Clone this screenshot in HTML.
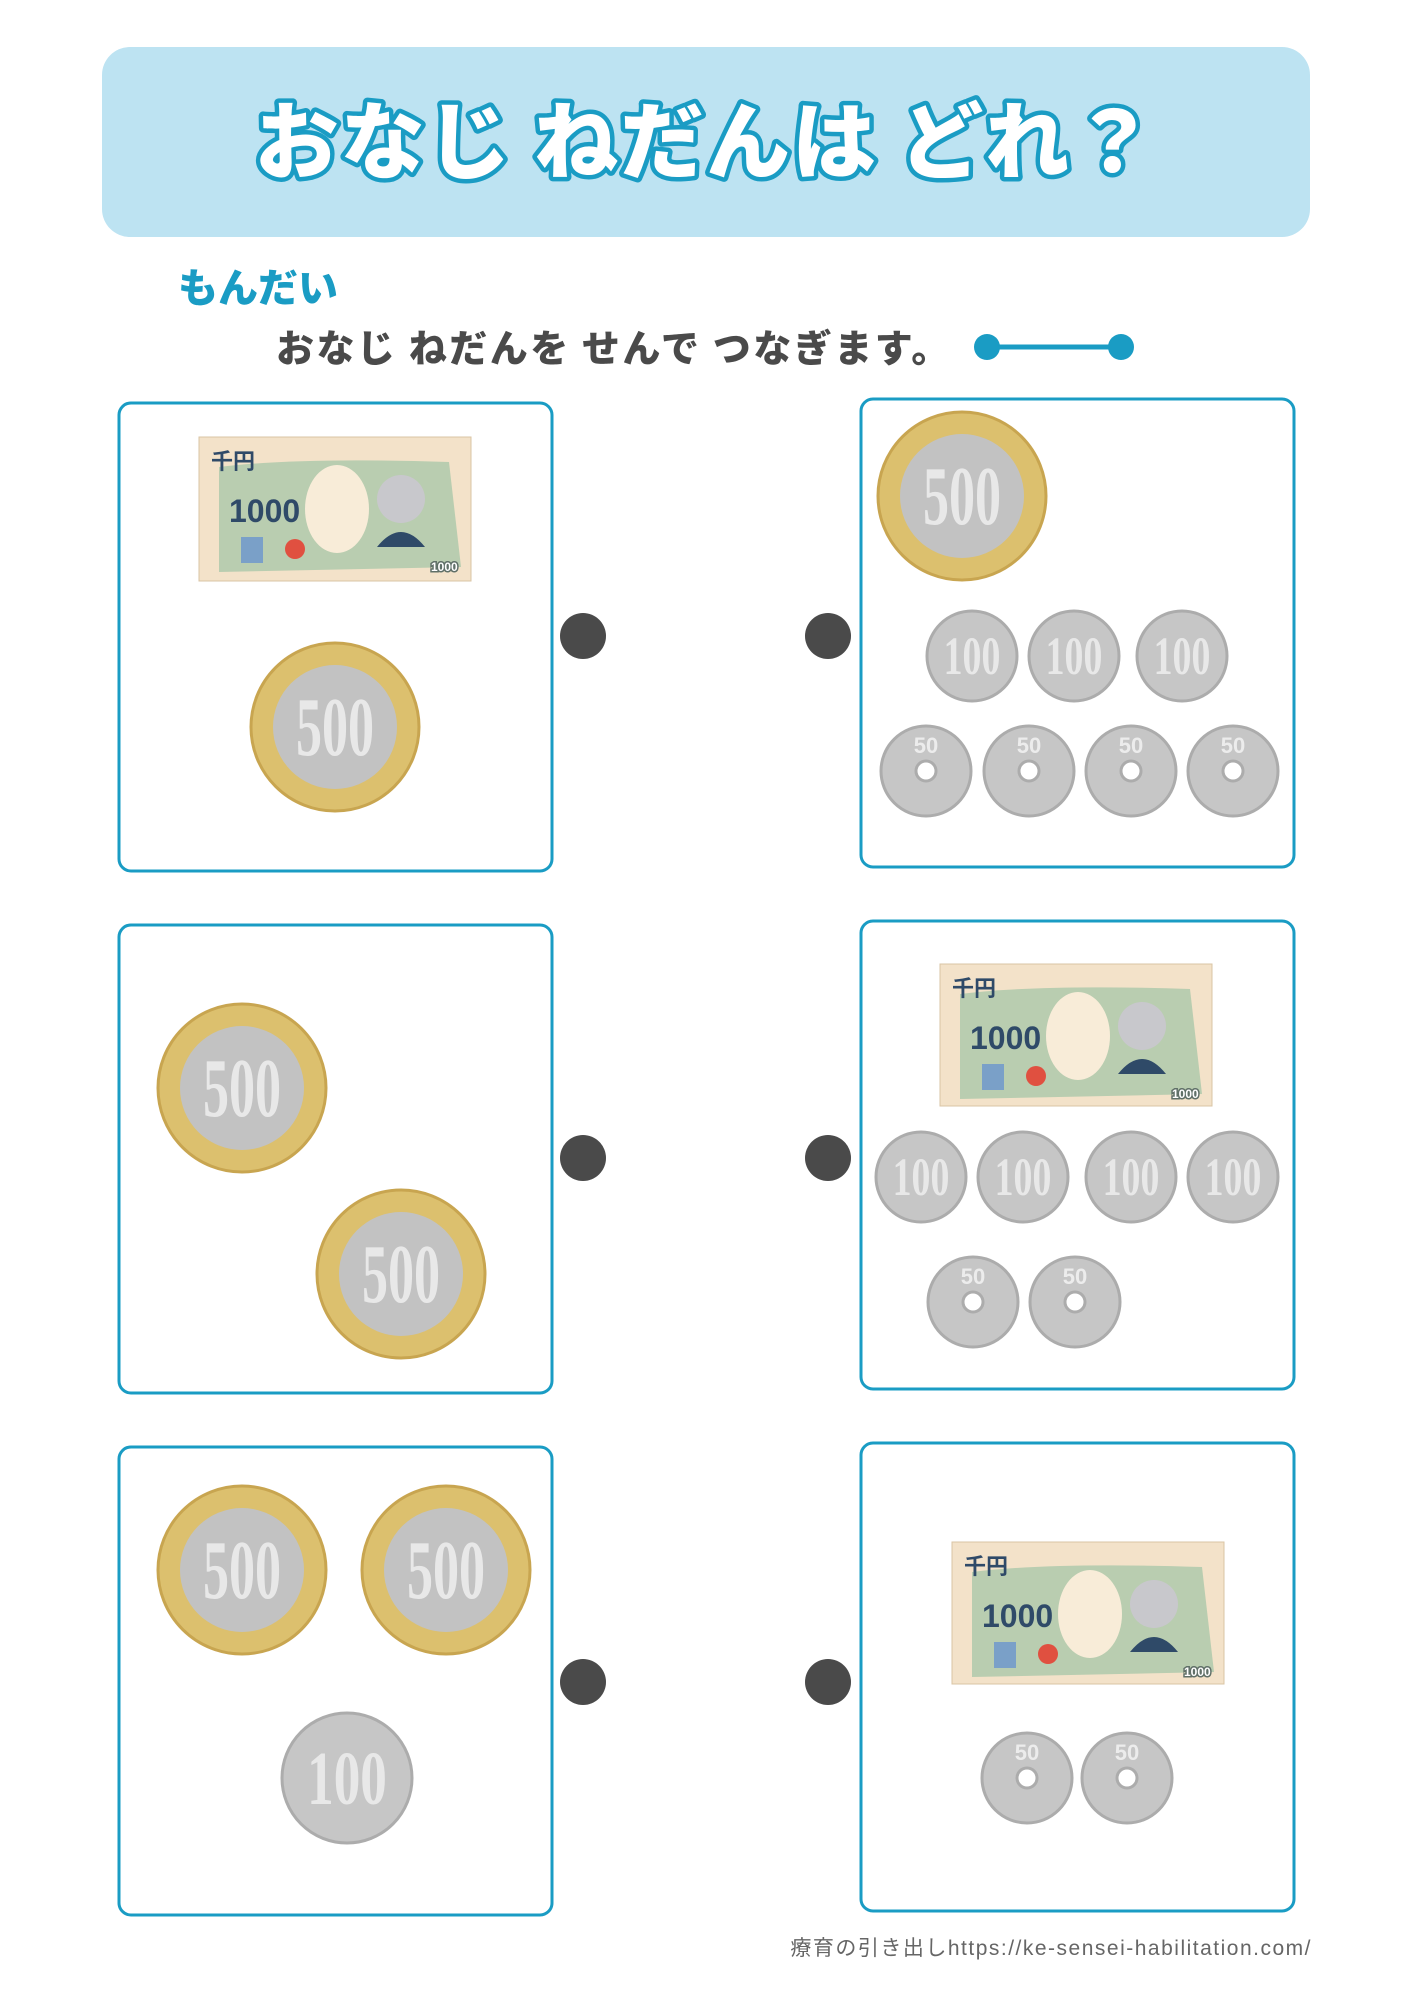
<!DOCTYPE html>
<html><head><meta charset="utf-8"><style>
html,body{margin:0;padding:0;background:#fff;}
svg{display:block;}
</style></head><body>
<svg width="1414" height="2000" viewBox="0 0 1414 2000" xmlns="http://www.w3.org/2000/svg" font-family="'Liberation Sans','Noto Sans CJK JP',sans-serif">
<rect x="102" y="47" width="1208" height="190" rx="28" fill="#bde3f2"/>
<text x="706" y="172" text-anchor="middle" font-size="84" font-weight="900" fill="#fff" stroke="#1a9cc4" stroke-width="9" paint-order="stroke" stroke-linejoin="round" font-family="'Noto Sans CJK JP',sans-serif" letter-spacing="2">おなじ ねだんは どれ？</text>
<text x="178" y="302" font-size="40" font-weight="900" fill="#1a9cc4" font-family="'Noto Sans CJK JP',sans-serif">もんだい</text>
<text x="276" y="362" font-size="38" font-weight="900" fill="#4a4a4a" letter-spacing="2.5" font-family="'Noto Sans CJK JP',sans-serif">おなじ ねだんを せんで つなぎます。</text>
<line x1="987" y1="347" x2="1121" y2="347" stroke="#1a9cc4" stroke-width="5"/>
<circle cx="987" cy="347" r="13" fill="#1a9cc4"/><circle cx="1121" cy="347" r="13" fill="#1a9cc4"/>

<g fill="none" stroke="#1a9cc4" stroke-width="3">
<rect x="119" y="403" width="433" height="468" rx="12"/>
<rect x="861" y="399" width="433" height="468" rx="12"/>
<rect x="119" y="925" width="433" height="468" rx="12"/>
<rect x="861" y="921" width="433" height="468" rx="12"/>
<rect x="119" y="1447" width="433" height="468" rx="12"/>
<rect x="861" y="1443" width="433" height="468" rx="12"/>
</g>
<g fill="#4a4a4a">
<circle cx="583" cy="636" r="23"/><circle cx="828" cy="636" r="23"/>
<circle cx="583" cy="1158" r="23"/><circle cx="828" cy="1158" r="23"/>
<circle cx="583" cy="1682" r="23"/><circle cx="828" cy="1682" r="23"/>
</g>

<!-- bills -->
<g transform="translate(199,437)">
<rect width="272" height="144" fill="#f3e2c9" stroke="#d9c4a4"/>
<path d="M20 30 Q100 20 250 25 L262 130 L20 135 Z" fill="#b9cdb0"/>
<ellipse cx="138" cy="72" rx="32" ry="44" fill="#f8ecd8"/>
<circle cx="202" cy="62" r="24" fill="#c8c8cc"/><path d="M178 110 Q202 80 226 110 Z" fill="#2f4a68"/>
<text x="12" y="32" font-size="22" font-weight="bold" fill="#2f4a68" font-family="'Noto Sans CJK JP',sans-serif">千円</text>
<text x="30" y="85" font-size="32" font-weight="bold" fill="#2f4a68">1000</text>
<circle cx="96" cy="112" r="10" fill="#e05040"/><rect x="42" y="100" width="22" height="26" fill="#7aa0c8"/>
<text x="232" y="134" font-size="12" font-weight="bold" fill="#fff" stroke="#607068" stroke-width="3" paint-order="stroke">1000</text>
</g>
<g transform="translate(940,964)">
<rect width="272" height="142" fill="#f3e2c9" stroke="#d9c4a4"/>
<path d="M20 30 Q100 20 250 25 L262 130 L20 135 Z" fill="#b9cdb0"/>
<ellipse cx="138" cy="72" rx="32" ry="44" fill="#f8ecd8"/>
<circle cx="202" cy="62" r="24" fill="#c8c8cc"/><path d="M178 110 Q202 80 226 110 Z" fill="#2f4a68"/>
<text x="12" y="32" font-size="22" font-weight="bold" fill="#2f4a68" font-family="'Noto Sans CJK JP',sans-serif">千円</text>
<text x="30" y="85" font-size="32" font-weight="bold" fill="#2f4a68">1000</text>
<circle cx="96" cy="112" r="10" fill="#e05040"/><rect x="42" y="100" width="22" height="26" fill="#7aa0c8"/>
<text x="232" y="134" font-size="12" font-weight="bold" fill="#fff" stroke="#607068" stroke-width="3" paint-order="stroke">1000</text>
</g>
<g transform="translate(952,1542)">
<rect width="272" height="142" fill="#f3e2c9" stroke="#d9c4a4"/>
<path d="M20 30 Q100 20 250 25 L262 130 L20 135 Z" fill="#b9cdb0"/>
<ellipse cx="138" cy="72" rx="32" ry="44" fill="#f8ecd8"/>
<circle cx="202" cy="62" r="24" fill="#c8c8cc"/><path d="M178 110 Q202 80 226 110 Z" fill="#2f4a68"/>
<text x="12" y="32" font-size="22" font-weight="bold" fill="#2f4a68" font-family="'Noto Sans CJK JP',sans-serif">千円</text>
<text x="30" y="85" font-size="32" font-weight="bold" fill="#2f4a68">1000</text>
<circle cx="96" cy="112" r="10" fill="#e05040"/><rect x="42" y="100" width="22" height="26" fill="#7aa0c8"/>
<text x="232" y="134" font-size="12" font-weight="bold" fill="#fff" stroke="#607068" stroke-width="3" paint-order="stroke">1000</text>
</g>

<!-- 500 coins -->
<g font-family="'Liberation Serif',serif" font-weight="bold">
<g transform="translate(335,727)"><circle r="84" fill="#dcc06e" stroke="#c8a550" stroke-width="3"/><circle r="62" fill="#c2c2c2"/><text y="28" text-anchor="middle" font-size="84" fill="#e8e8e8" transform="scale(0.62,1)">500</text></g>
<g transform="translate(962,496)"><circle r="84" fill="#dcc06e" stroke="#c8a550" stroke-width="3"/><circle r="62" fill="#c2c2c2"/><text y="28" text-anchor="middle" font-size="84" fill="#e8e8e8" transform="scale(0.62,1)">500</text></g>
<g transform="translate(242,1088)"><circle r="84" fill="#dcc06e" stroke="#c8a550" stroke-width="3"/><circle r="62" fill="#c2c2c2"/><text y="28" text-anchor="middle" font-size="84" fill="#e8e8e8" transform="scale(0.62,1)">500</text></g>
<g transform="translate(401,1274)"><circle r="84" fill="#dcc06e" stroke="#c8a550" stroke-width="3"/><circle r="62" fill="#c2c2c2"/><text y="28" text-anchor="middle" font-size="84" fill="#e8e8e8" transform="scale(0.62,1)">500</text></g>
<g transform="translate(242,1570)"><circle r="84" fill="#dcc06e" stroke="#c8a550" stroke-width="3"/><circle r="62" fill="#c2c2c2"/><text y="28" text-anchor="middle" font-size="84" fill="#e8e8e8" transform="scale(0.62,1)">500</text></g>
<g transform="translate(446,1570)"><circle r="84" fill="#dcc06e" stroke="#c8a550" stroke-width="3"/><circle r="62" fill="#c2c2c2"/><text y="28" text-anchor="middle" font-size="84" fill="#e8e8e8" transform="scale(0.62,1)">500</text></g>

<!-- 100 coins -->
<g fill="#c6c6c6" stroke="#acacac" stroke-width="3">
<circle cx="972" cy="656" r="45"/><circle cx="1074" cy="656" r="45"/><circle cx="1182" cy="656" r="45"/>
<circle cx="921" cy="1177" r="45"/><circle cx="1023" cy="1177" r="45"/><circle cx="1131" cy="1177" r="45"/><circle cx="1233" cy="1177" r="45"/>
<circle cx="347" cy="1778" r="65"/>
</g>
<g fill="#e8e8e8" text-anchor="middle" font-size="54">
<text transform="translate(972,674) scale(0.7,1)">100</text>
<text transform="translate(1074,674) scale(0.7,1)">100</text>
<text transform="translate(1182,674) scale(0.7,1)">100</text>
<text transform="translate(921,1195) scale(0.7,1)">100</text>
<text transform="translate(1023,1195) scale(0.7,1)">100</text>
<text transform="translate(1131,1195) scale(0.7,1)">100</text>
<text transform="translate(1233,1195) scale(0.7,1)">100</text>
<text transform="translate(347,1804) scale(0.7,1)" font-size="76">100</text>
</g>
</g>

<!-- 50 coins -->
<g fill="#c6c6c6" stroke="#acacac" stroke-width="3">
<circle cx="926" cy="771" r="45"/><circle cx="1029" cy="771" r="45"/><circle cx="1131" cy="771" r="45"/><circle cx="1233" cy="771" r="45"/>
<circle cx="973" cy="1302" r="45"/><circle cx="1075" cy="1302" r="45"/>
<circle cx="1027" cy="1778" r="45"/><circle cx="1127" cy="1778" r="45"/>
</g>
<g fill="#fff" stroke="#acacac" stroke-width="3">
<circle cx="926" cy="771" r="10"/><circle cx="1029" cy="771" r="10"/><circle cx="1131" cy="771" r="10"/><circle cx="1233" cy="771" r="10"/>
<circle cx="973" cy="1302" r="10"/><circle cx="1075" cy="1302" r="10"/>
<circle cx="1027" cy="1778" r="10"/><circle cx="1127" cy="1778" r="10"/>
</g>
<g fill="#ececec" text-anchor="middle" font-size="22" font-weight="bold">
<text x="926" y="753">50</text><text x="1029" y="753">50</text><text x="1131" y="753">50</text><text x="1233" y="753">50</text>
<text x="973" y="1284">50</text><text x="1075" y="1284">50</text>
<text x="1027" y="1760">50</text><text x="1127" y="1760">50</text>
</g>

<text x="1312" y="1955" text-anchor="end" font-size="21" letter-spacing="1.5" fill="#666">療育の引き出しhttps://ke-sensei-habilitation.com/</text>
</svg>
</body></html>
